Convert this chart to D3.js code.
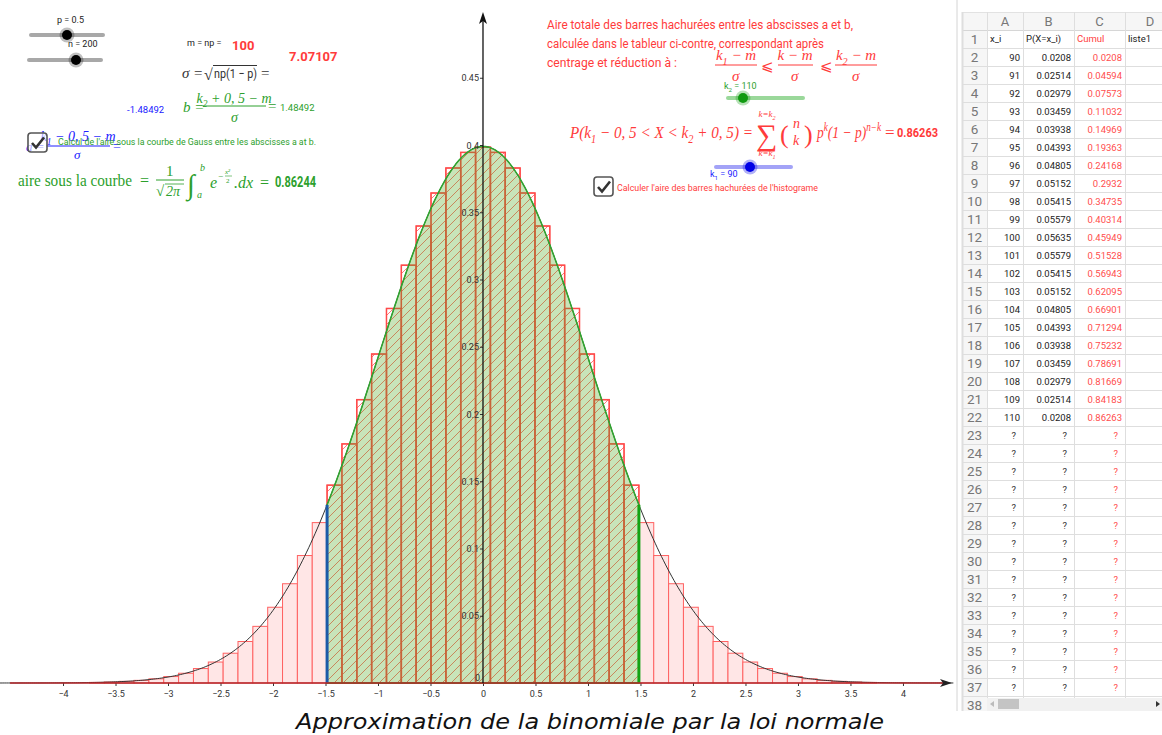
<!DOCTYPE html>
<meta charset="utf-8">
<style>
body { margin: 0; background: #fff; }
svg text { font-family: Roboto, "Liberation Sans", sans-serif; }
.m { font-family: "Liberation Serif", "DejaVu Serif", serif; font-style: italic; }
.u { font-family: "Liberation Serif", "DejaVu Serif", serif; }
.axis text { font-size: 9px; fill: #333; }
.axis line { stroke: #333; }
</style>
<svg width="1162" height="735"></svg>
<script src="https://d3js.org/d3.v7.min.js"></script>
<script>

// parameters shown in the applet
var n = 200, p = 0.5, mean = 100, sigma = 7.07107;
var kLow = 90, kHigh = 110;
var zA = -1.48492, zB = 1.48492;
var areaGauss = "0.86244", areaBars = "0.86263";

// binomial B(200, 0.5) probabilities P(X = k)
var ks = [74, 75, 76, 77, 78, 79, 80, 81, 82, 83, 84, 85, 86, 87, 88, 89,
  90, 91, 92, 93, 94, 95, 96, 97, 98, 99, 100, 101, 102, 103, 104, 105, 106, 107, 108, 109, 110,
  111, 112, 113, 114, 115, 116, 117, 118, 119, 120, 121, 122, 123, 124, 125, 126];
var probs = [0.0000625, 0.000105, 0.000173, 0.000278, 0.000439, 0.000678, 0.001025, 0.001519,
  0.002204, 0.003133, 0.004364, 0.005956, 0.007965, 0.010437, 0.013402, 0.016865,
  0.0208, 0.02514, 0.02979, 0.03459, 0.03938, 0.04393, 0.04805, 0.05152, 0.05415, 0.05579,
  0.05635, 0.05579, 0.05415, 0.05152, 0.04805, 0.04393, 0.03938, 0.03459, 0.02979, 0.02514, 0.0208,
  0.016865, 0.013402, 0.010437, 0.007965, 0.005956, 0.004364, 0.003133, 0.002204, 0.001519,
  0.001025, 0.000678, 0.000439, 0.000278, 0.000173, 0.000105, 0.0000625];

// spreadsheet columns
var colX = [90, 91, 92, 93, 94, 95, 96, 97, 98, 99, 100, 101, 102, 103, 104, 105, 106, 107, 108, 109, 110];
var colP = ["0.0208", "0.02514", "0.02979", "0.03459", "0.03938", "0.04393", "0.04805", "0.05152",
  "0.05415", "0.05579", "0.05635", "0.05579", "0.05415", "0.05152", "0.04805", "0.04393",
  "0.03938", "0.03459", "0.02979", "0.02514", "0.0208"];
var colCumul = ["0.0208", "0.04594", "0.07573", "0.11032", "0.14969", "0.19363", "0.24168", "0.2932",
  "0.34735", "0.40314", "0.45949", "0.51528", "0.56943", "0.62095", "0.66901", "0.71294",
  "0.75232", "0.78691", "0.81669", "0.84183", "0.86263"];
var colHeads = ["A", "B", "C", "D"];
var rowOneLabels = ["x_i", "P(X=x_i)", "Cumul", "liste1"];

var xTicks = [-4, -3.5, -3, -2.5, -2, -1.5, -1, -0.5, 0, 0.5, 1, 1.5, 2, 2.5, 3, 3.5, 4];
var yTicks = [0.05, 0.1, 0.15, 0.2, 0.25, 0.3, 0.35, 0.4, 0.45];

var svg = d3.select("svg");

var x = d3.scaleLinear().domain([-4.505, 4.448]).range([10, 950]);
var y = d3.scaleLinear().domain([0, 0.5]).range([683, 10.5]);

function gauss(z) { return Math.exp(-z * z / 2) / Math.sqrt(2 * Math.PI); }

var defs = svg.append("defs");
var hatch = defs.append("pattern")
    .attr("id", "hatch")
    .attr("patternUnits", "userSpaceOnUse")
    .attr("width", 9).attr("height", 9);
hatch.append("path")
    .attr("d", "M-1,1 l2,-2 M0,9 l9,-9 M8,10 l2,-2")
    .attr("stroke", "#ff4d4d").attr("stroke-width", 0.75);

defs.append("clipPath").attr("id", "plotclip")
  .append("rect").attr("x", 0).attr("y", 0).attr("width", 955).attr("height", 705);

var plot = svg.append("g").attr("clip-path", "url(#plotclip)");

// histogram
var bars = ks.map(function(k, i) { return {k: k, p: probs[i]}; });
var bw = 1 / sigma;

plot.append("g").selectAll("rect")
  .data(bars)
  .enter().append("rect")
    .attr("x", function(d) { return x((d.k - mean) / sigma - bw / 2); })
    .attr("width", function(d) { return x(bw) - x(0); })
    .attr("y", function(d) { return y(d.p * sigma); })
    .attr("height", function(d) { return y(0) - y(d.p * sigma); })
    .attr("fill", function(d) { return d.k >= kLow && d.k <= kHigh ? "#fff" : "#ffe6e6"; })
    .attr("stroke", "#ff6161")
    .attr("stroke-width", 1);

plot.append("g").selectAll("rect")
  .data(bars.filter(function(d) { return d.k >= kLow && d.k <= kHigh; }))
  .enter().append("rect")
    .attr("x", function(d) { return x((d.k - mean) / sigma - bw / 2); })
    .attr("width", function(d) { return x(bw) - x(0); })
    .attr("y", function(d) { return y(d.p * sigma); })
    .attr("height", function(d) { return y(0) - y(d.p * sigma); })
    .attr("fill", "url(#hatch)")
    .attr("stroke", "#ff4a4a")
    .attr("stroke-width", 1.5);

// gauss curve
var curvePts = d3.range(-4.6, 4.5, 0.02);
plot.append("path")
    .datum(curvePts)
    .attr("fill", "none")
    .attr("stroke", "#333")
    .attr("stroke-width", 1)
    .attr("d", d3.line().x(function(d) { return x(d); }).y(function(d) { return y(gauss(d)); }));

// shaded integral between a and b
var areaPts = d3.range(zA, zB, 0.01).concat([zB]);
plot.append("path")
    .datum(areaPts)
    .attr("fill", "rgba(72,165,22,0.3)")
    .attr("stroke", "#2fa52f")
    .attr("stroke-width", 1.5)
    .attr("d", d3.area().x(function(d) { return x(d); }).y0(y(0)).y1(function(d) { return y(gauss(d)); }));

plot.append("line")
    .attr("x1", x(zA)).attr("x2", x(zA))
    .attr("y1", y(0)).attr("y2", y(gauss(zA)))
    .attr("stroke", "#1c5aa8").attr("stroke-width", 3);
plot.append("line")
    .attr("x1", x(zB)).attr("x2", x(zB))
    .attr("y1", y(0)).attr("y2", y(gauss(zB)))
    .attr("stroke", "#14a314").attr("stroke-width", 3);

// axes
var xAxis = plot.append("g")
    .attr("class", "axis")
    .attr("transform", "translate(0," + y(0) + ")")
    .call(d3.axisBottom(x).tickValues(xTicks).tickSize(3).tickSizeOuter(0).tickFormat(d3.format("")));
xAxis.select(".domain").remove();
xAxis.selectAll("text").attr("dy", "0.9em");

plot.append("line")
    .attr("x1", 10).attr("x2", 945)
    .attr("y1", y(0)).attr("y2", y(0))
    .attr("stroke", "#b3262a").attr("stroke-width", 1.6);
plot.append("path")
    .attr("d", "M952," + y(0) + " l-12,-4 l3,4 l-3,4 z")
    .attr("fill", "#222");

var yAxis = plot.append("g")
    .attr("class", "axis")
    .attr("transform", "translate(" + x(0) + ",0)")
    .call(d3.axisLeft(y).tickValues(yTicks).tickSize(3).tickFormat(d3.format("")));
yAxis.select(".domain").remove();
yAxis.selectAll("text").attr("x", -4).attr("dy", "0.35em");
plot.append("text").attr("x", x(0) - 3).attr("y", y(0) - 2)
    .attr("text-anchor", "end").style("font-size", "9px").attr("fill", "#333").text("0");

plot.append("line")
    .attr("x1", x(0)).attr("x2", x(0))
    .attr("y1", y(0)).attr("y2", 18)
    .attr("stroke", "#111").attr("stroke-width", 1.3);
plot.append("path")
    .attr("d", "M" + x(0) + ",12 l-4,12 l4,-3 l4,3 z")
    .attr("fill", "#111");

// ---------- text helpers ----------
function txt(xp, yp, s, size, color, cls) {
  var t = svg.append("text")
      .attr("x", xp).attr("y", yp)
      .style("font-size", size + "px")
      .attr("fill", color)
      .text(s);
  if (cls) t.attr("class", cls);
  return t;
}
// text with sub/superscripts: parts = [[str, "sub"|"sup"|null], ...]
function rich(xp, yp, parts, size, color, cls, anchor) {
  var t = svg.append("text")
      .attr("x", xp).attr("y", yp)
      .attr("class", cls || "m")
      .style("font-size", size + "px")
      .attr("fill", color);
  if (anchor) t.attr("text-anchor", anchor);
  var shift = 0;
  parts.forEach(function(pt) {
    var want = pt[1] == "sub" ? size * 0.3 : pt[1] == "sup" ? -size * 0.4 : 0;
    var ts = t.append("tspan").attr("dy", want - shift).text(pt[0]);
    if (pt[1]) ts.style("font-size", (size * 0.68) + "px");
    shift = want;
  });
  return t;
}
function fracBar(x1, x2, yy, color, w) {
  svg.append("line").attr("x1", x1).attr("x2", x2).attr("y1", yy).attr("y2", yy)
      .attr("stroke", color).attr("stroke-width", w || 1);
}
function slider(x1, x2, yy, kx, track, knob, halo) {
  svg.append("line").attr("x1", x1).attr("x2", x2).attr("y1", yy).attr("y2", yy)
      .attr("stroke", track).attr("stroke-width", 4).attr("stroke-linecap", "round");
  svg.append("circle").attr("cx", kx).attr("cy", yy).attr("r", 7.5).attr("fill", halo);
  svg.append("circle").attr("cx", kx).attr("cy", yy).attr("r", 5).attr("fill", knob);
}
function checkbox(x0, y0) {
  svg.append("rect").attr("x", x0).attr("y", y0).attr("width", 19).attr("height", 19).attr("rx", 3)
      .attr("fill", "rgba(255,255,255,0.6)").attr("stroke", "#555").attr("stroke-width", 1.6);
  svg.append("path").attr("d", "M" + (x0 + 4) + "," + (y0 + 10) + " l4,4.5 l8,-10")
      .attr("fill", "none").attr("stroke", "#333").attr("stroke-width", 2.6);
}

var red = "#ff3b3b", green = "#2ca02c", blue = "#2020ff";

// ---------- left block ----------
txt(57, 23, "p = " + p, 9, "#222");
slider(31, 103, 35, 67, "#a8a8a8", "#000", "rgba(0,0,0,0.25)");
txt(68, 47, "n = " + n, 9, "#222");
slider(29, 101, 60, 76, "#a8a8a8", "#000", "rgba(0,0,0,0.25)");

txt(187, 46, "m = np =", 9, "#222");
txt(232, 50, String(mean), 13, red).style("font-weight", "bold");
txt(289, 61, String(sigma), 13, red).style("font-weight", "bold");

txt(182, 78, "σ", 15, "#333", "m");
txt(194, 78, "=", 15, "#333", "u");
txt(204, 80, "√", 16, "#333", "u");
fracBar(213, 257, 65.5, "#333", 1);
txt(214, 78, "np(1 − p)", 13, "#333")
    .attr("textLength", 43).attr("lengthAdjust", "spacingAndGlyphs");
txt(261, 78, "=", 15, "#333", "u");

txt(127, 113, String(zA), 9.5, blue);

txt(183, 112, "b =", 15, green, "m");
rich(234, 103, [["k"], ["2", "sub"], [" + 0, 5 − m"]], 14, green, "m", "middle");
fracBar(203, 266, 106, green, 1);
txt(231, 122, "σ", 14, green, "m");
txt(268, 111, "=", 15, green, "u");
txt(280, 111, String(zB), 9.5, green);

// blue a = ... formula partly under the checkbox
txt(26, 151, "a =", 13, blue, "m");
rich(78, 141, [["k"], ["1", "sub"], [" − 0, 5 − m"]], 14, blue, "m", "middle");
fracBar(46, 110, 146, blue, 1);
txt(74, 159, "σ", 13, blue, "m");
txt(113, 151, "=", 14, blue, "u");
checkbox(28, 133);
txt(58, 145, "Calcul de l'aire sous la courbe de Gauss entre les abscisses a at b.", 9, green)
    .attr("textLength", 258).attr("lengthAdjust", "spacingAndGlyphs");

txt(18, 186, "aire sous la courbe", 16, green, "u")
    .attr("textLength", 114).attr("lengthAdjust", "spacingAndGlyphs");
txt(140, 186, "=", 16, green, "u");
txt(166, 176, "1", 15, green, "u");
fracBar(156, 184, 180, green, 1);
txt(156, 196, "√", 15, green, "u");
fracBar(165, 184, 184, green, 0.8);
txt(166, 196, "2π", 14, green, "m");
txt(187, 194, "∫", 28, green, "u");
txt(200, 171, "b", 10, green, "m");
txt(197, 198, "a", 10, green, "m");
txt(210, 188, "e", 16, green, "m");
txt(218, 179, "−", 9, green, "u");
txt(225, 174, "x²", 7, green, "m");
fracBar(225, 232, 176, green, 0.6);
txt(226, 183, "2", 7, green, "u");
txt(234, 188, ".dx", 16, green, "m");
txt(260, 188, "=", 16, green, "u");
txt(275, 187, areaGauss, 14, green).style("font-weight", "bold")
    .attr("textLength", 41).attr("lengthAdjust", "spacingAndGlyphs");

// ---------- right block ----------
var para = ["Aire totale des barres hachurées entre les abscisses a et b,",
  "calculée dans le tableur ci-contre, correspondant après",
  "centrage et réduction à  :"];
var paraW = [306, 277, 130];
para.forEach(function(s, i) {
  txt(547, 29 + i * 19, s, 12, red).attr("textLength", paraW[i]).attr("lengthAdjust", "spacingAndGlyphs");
});

rich(736, 60, [["k"], ["1", "sub"], [" − m"]], 15, red, "m", "middle");
fracBar(715, 757, 65, red, 1);
txt(732, 81, "σ", 15, red, "m");
txt(761, 71, "⩽", 15, red).style("font-family", "'DejaVu Sans'");
rich(795, 60, [["k − m"]], 15, red, "m", "middle");
fracBar(778, 813, 65, red, 1);
txt(791, 81, "σ", 15, red, "m");
txt(820, 71, "⩽", 15, red).style("font-family", "'DejaVu Sans'");
rich(856, 60, [["k"], ["2", "sub"], [" − m"]], 15, red, "m", "middle");
fracBar(835, 877, 65, red, 1);
txt(852, 81, "σ", 15, red, "m");

rich(724, 89, [["k"], ["2", "sub"], [" = " + kHigh]], 9, green, "x");
slider(728, 803, 98, 743, "#9ad89a", "#109a10", "rgba(16,154,16,0.3)");

rich(570, 138, [["P(k"], ["1", "sub"], [" − 0, 5 < X < k"], ["2", "sub"], [" + 0, 5) ="]], 17, red, "m")
    .attr("textLength", 183).attr("lengthAdjust", "spacingAndGlyphs");
txt(756, 145, "∑", 30, red, "u");
rich(767, 117, [["k=k"], ["2", "sub"]], 9, red, "m", "middle");
rich(767, 156, [["k=k"], ["1", "sub"]], 9, red, "m", "middle");
txt(780, 143, "(", 26, red, "u");
txt(793, 128, "n", 14, red, "m");
txt(793, 145, "k", 14, red, "m");
txt(804, 143, ")", 26, red, "u");
rich(817, 138, [["p"], ["k", "sup"], ["(1 − p)"], ["n−k", "sup"]], 17, red, "m")
    .attr("textLength", 64).attr("lengthAdjust", "spacingAndGlyphs");
txt(885, 138, "=", 17, red, "u");
txt(897, 137, areaBars, 13, red).style("font-weight", "bold")
    .attr("textLength", 41).attr("lengthAdjust", "spacingAndGlyphs");

slider(716, 791, 167, 750, "#a3a3f7", "#0000e6", "rgba(0,0,230,0.3)");
rich(710, 177, [["k"], ["1", "sub"], [" = " + kLow]], 9, blue, "x");

checkbox(594, 177);
txt(617, 191, "Calculer l'aire des barres hachurées de l'histograme", 9, red)
    .attr("textLength", 201).attr("lengthAdjust", "spacingAndGlyphs");

// ---------- spreadsheet ----------
defs.append("clipPath").attr("id", "sheetclip")
  .append("rect").attr("x", 955).attr("y", 0).attr("width", 207).attr("height", 711);
var sheet = svg.append("g").attr("clip-path", "url(#sheetclip)");

var colEdges = [962, 987, 1023, 1074, 1125, 1175];
var headTop = 12, rowTop = 30, rowH = 18, nRows = 38;

sheet.append("rect").attr("x", 962).attr("y", headTop).attr("width", 200).attr("height", rowTop - headTop)
    .attr("fill", "#f6f6f6");
sheet.append("rect").attr("x", 962).attr("y", headTop).attr("width", 25).attr("height", 720)
    .attr("fill", "#f6f6f6");
sheet.append("line").attr("x1", 957).attr("x2", 957).attr("y1", 0).attr("y2", 711)
    .attr("stroke", "#d4d4d4").attr("stroke-width", 1);

var rowIdx = d3.range(1, nRows + 1);
sheet.append("g").selectAll("line")
  .data(rowIdx)
  .enter().append("line")
    .attr("x1", 962).attr("x2", 1162)
    .attr("y1", function(r) { return rowTop + r * rowH + 0.5; })
    .attr("y2", function(r) { return rowTop + r * rowH + 0.5; })
    .attr("stroke", "#dedede");
sheet.append("line").attr("x1", 962).attr("x2", 1162).attr("y1", rowTop + 0.5).attr("y2", rowTop + 0.5)
    .attr("stroke", "#d6d6d6");
sheet.append("line").attr("x1", 962).attr("x2", 1162).attr("y1", headTop + 0.5).attr("y2", headTop + 0.5)
    .attr("stroke", "#e2e2e2");
sheet.append("g").selectAll("line")
  .data(colEdges.slice(0, 5))
  .enter().append("line")
    .attr("x1", function(c) { return c + 0.5; }).attr("x2", function(c) { return c + 0.5; })
    .attr("y1", headTop).attr("y2", 711)
    .attr("stroke", "#dedede").attr("stroke-width", function(c, i) { return i == 0 ? 2 : 1; });

sheet.append("g").selectAll("text")
  .data(colHeads)
  .enter().append("text")
    .attr("x", function(d, i) { return (colEdges[i + 1] + colEdges[i + 2]) / 2; })
    .attr("y", 26)
    .attr("text-anchor", "middle")
    .style("font-size", "13px")
    .attr("fill", "#777")
    .text(function(d) { return d; });

sheet.append("g").selectAll("text")
  .data(rowIdx)
  .enter().append("text")
    .attr("x", 974.5)
    .attr("y", function(r) { return rowTop + (r - 1) * rowH + 14; })
    .attr("text-anchor", "middle")
    .style("font-size", "13.5px")
    .attr("fill", "#777")
    .text(function(r) { return r; });

sheet.append("g").selectAll("text")
  .data(rowOneLabels)
  .enter().append("text")
    .attr("x", function(d, i) { return colEdges[i + 1] + 3; })
    .attr("y", rowTop + 12)
    .style("font-size", "9.5px")
    .attr("fill", function(d, i) { return i == 2 ? "#ff4040" : "#222"; })
    .text(function(d) { return d; });

function cellCol(values, ci, color) {
  sheet.append("g").selectAll("text")
    .data(values)
    .enter().append("text")
      .attr("x", colEdges[ci + 2] - 3)
      .attr("y", function(d, i) { return rowTop + (i + 1) * rowH + 12.5; })
      .attr("text-anchor", "end")
      .style("font-size", "9.5px")
      .attr("fill", color)
      .text(function(d) { return d; });
}
cellCol(colX, 0, "#222");
cellCol(colP, 1, "#222");
cellCol(colCumul, 2, "#ff4d4d");
var unknown = d3.range(23, 38).map(function() { return "?"; });
function qCol(ci, color) {
  sheet.append("g").selectAll("text")
    .data(unknown)
    .enter().append("text")
      .attr("x", colEdges[ci + 2] - 7)
      .attr("y", function(d, i) { return rowTop + (i + 22) * rowH + 12.5; })
      .attr("text-anchor", "end")
      .style("font-size", "9.5px")
      .attr("fill", color)
      .text(function(d) { return d; });
}
qCol(0, "#333");
qCol(1, "#333");
qCol(2, "#ff4d4d");

// horizontal scrollbar
sheet.append("rect").attr("x", 987).attr("y", 698).attr("width", 175).attr("height", 13).attr("fill", "#f1f1f1");
sheet.append("rect").attr("x", 998).attr("y", 699).attr("width", 21).attr("height", 10).attr("fill", "#c4c4c4");
sheet.append("path").attr("d", "M990,704 l4,-3 v6 z").attr("fill", "#bbb");
sheet.append("path").attr("d", "M1160,704 l-4,-3 v6 z").attr("fill", "#333");

// ---------- caption ----------
svg.append("text")
    .attr("x", 296).attr("y", 729)
    .style("font-family", "'DejaVu Sans', sans-serif")
    .style("font-style", "italic")
    .style("font-size", "22px")
    .attr("fill", "#111")
    .attr("textLength", 588).attr("lengthAdjust", "spacingAndGlyphs")
    .text("Approximation de la binomiale par la loi normale");

</script>
